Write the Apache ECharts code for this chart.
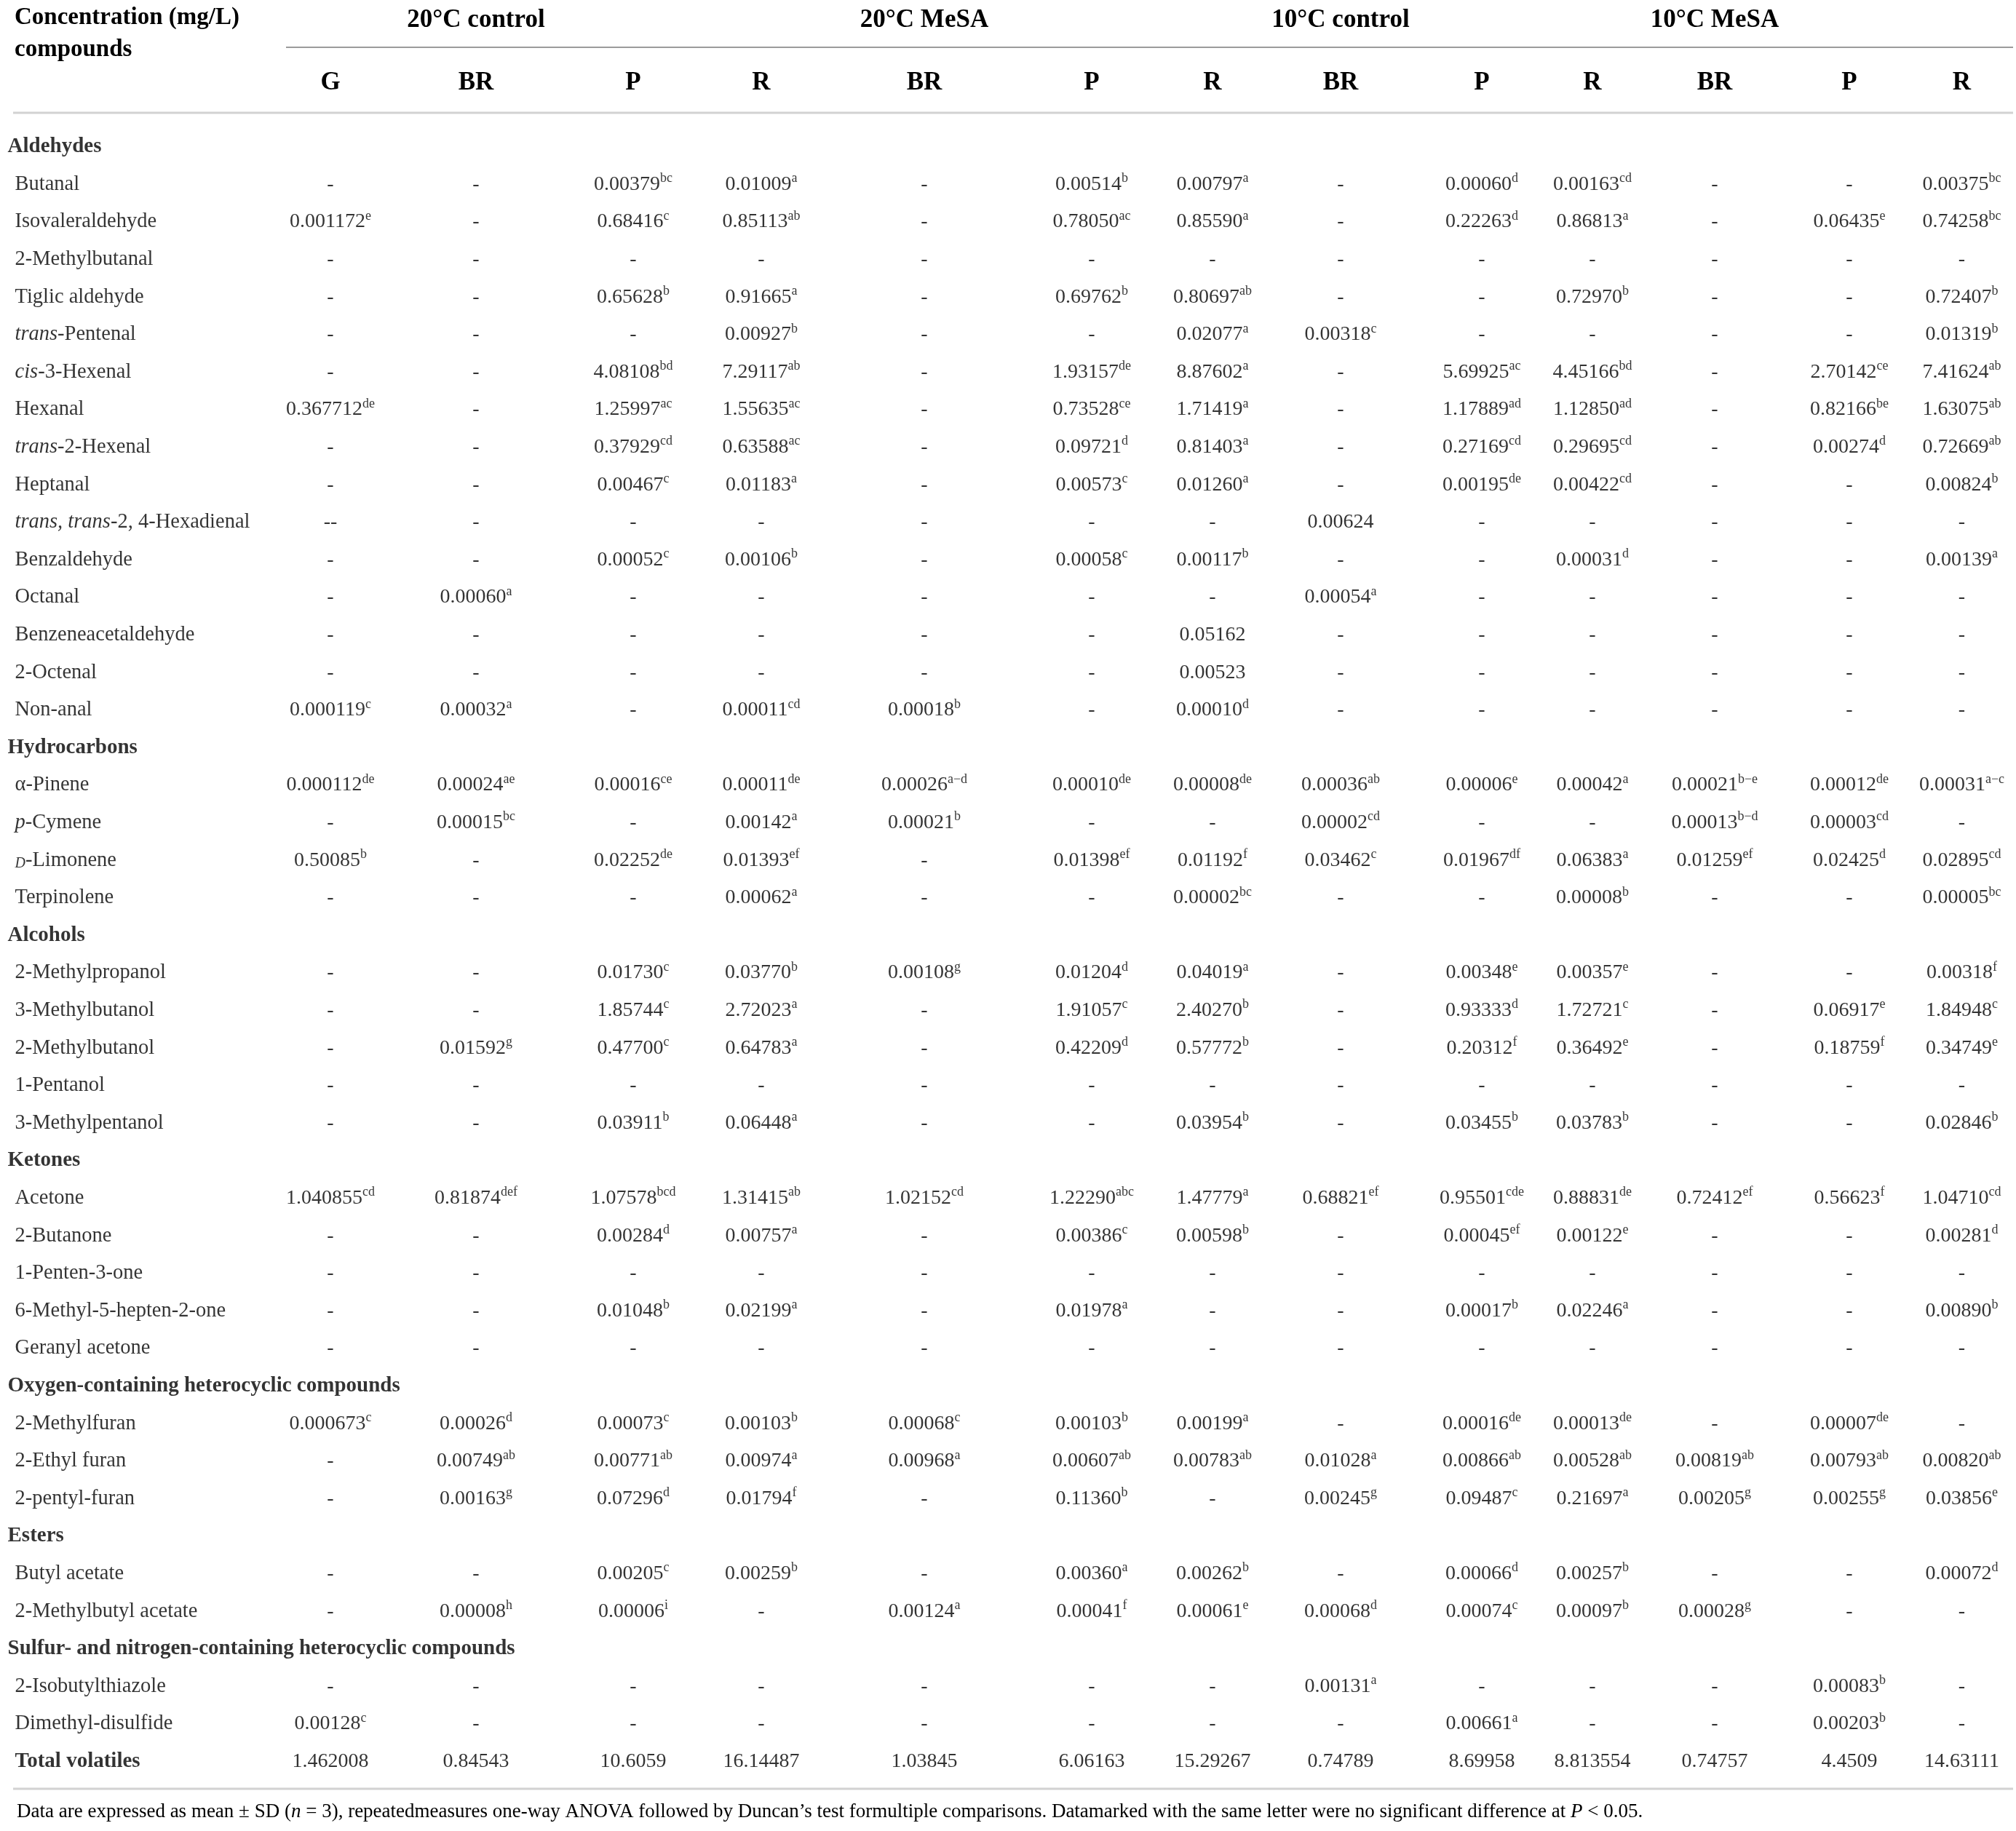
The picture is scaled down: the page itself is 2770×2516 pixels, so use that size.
<!DOCTYPE html>
<html>
<head>
<meta charset="utf-8">
<script src="https://cdn.jsdelivr.net/npm/echarts@6/dist/echarts.min.js"></script>
<style>
    html, body { margin: 0; padding: 0; background: #ffffff; }
    #main { width: 2770px; height: 2516px; }
</style>
</head>
<body>
<div id="main"></div>
<script>
var groups = ['20°C control', '20°C MeSA', '10°C control', '10°C MeSA'];
var subCols = ['G', 'BR', 'P', 'R', 'BR', 'P', 'R', 'BR', 'P', 'R', 'BR', 'P', 'R'];
var colGroup = [0, 0, 0, 0, 1, 1, 1, 2, 2, 2, 3, 3, 3];

// cell text: value^letters ; *x* = italic, %x% = small italic
var aldehydes = [
    ['Butanal', '-', '-', '0.00379^bc', '0.01009^a', '-', '0.00514^b', '0.00797^a', '-', '0.00060^d', '0.00163^cd', '-', '-', '0.00375^bc'],
    ['Isovaleraldehyde', '0.001172^e', '-', '0.68416^c', '0.85113^ab', '-', '0.78050^ac', '0.85590^a', '-', '0.22263^d', '0.86813^a', '-', '0.06435^e', '0.74258^bc'],
    ['2-Methylbutanal', '-', '-', '-', '-', '-', '-', '-', '-', '-', '-', '-', '-', '-'],
    ['Tiglic aldehyde', '-', '-', '0.65628^b', '0.91665^a', '-', '0.69762^b', '0.80697^ab', '-', '-', '0.72970^b', '-', '-', '0.72407^b'],
    ['*trans*-Pentenal', '-', '-', '-', '0.00927^b', '-', '-', '0.02077^a', '0.00318^c', '-', '-', '-', '-', '0.01319^b'],
    ['*cis*-3-Hexenal', '-', '-', '4.08108^bd', '7.29117^ab', '-', '1.93157^de', '8.87602^a', '-', '5.69925^ac', '4.45166^bd', '-', '2.70142^ce', '7.41624^ab'],
    ['Hexanal', '0.367712^de', '-', '1.25997^ac', '1.55635^ac', '-', '0.73528^ce', '1.71419^a', '-', '1.17889^ad', '1.12850^ad', '-', '0.82166^be', '1.63075^ab'],
    ['*trans*-2-Hexenal', '-', '-', '0.37929^cd', '0.63588^ac', '-', '0.09721^d', '0.81403^a', '-', '0.27169^cd', '0.29695^cd', '-', '0.00274^d', '0.72669^ab'],
    ['Heptanal', '-', '-', '0.00467^c', '0.01183^a', '-', '0.00573^c', '0.01260^a', '-', '0.00195^de', '0.00422^cd', '-', '-', '0.00824^b'],
    ['*trans, trans*-2, 4-Hexadienal', '--', '-', '-', '-', '-', '-', '-', '0.00624', '-', '-', '-', '-', '-'],
    ['Benzaldehyde', '-', '-', '0.00052^c', '0.00106^b', '-', '0.00058^c', '0.00117^b', '-', '-', '0.00031^d', '-', '-', '0.00139^a'],
    ['Octanal', '-', '0.00060^a', '-', '-', '-', '-', '-', '0.00054^a', '-', '-', '-', '-', '-'],
    ['Benzeneacetaldehyde', '-', '-', '-', '-', '-', '-', '0.05162', '-', '-', '-', '-', '-', '-'],
    ['2-Octenal', '-', '-', '-', '-', '-', '-', '0.00523', '-', '-', '-', '-', '-', '-'],
    ['Non-anal', '0.000119^c', '0.00032^a', '-', '0.00011^cd', '0.00018^b', '-', '0.00010^d', '-', '-', '-', '-', '-', '-']
];
var hydrocarbons = [
    ['\u03b1-Pinene', '0.000112^de', '0.00024^ae', '0.00016^ce', '0.00011^de', '0.00026^a\u2212d', '0.00010^de', '0.00008^de', '0.00036^ab', '0.00006^e', '0.00042^a', '0.00021^b\u2212e', '0.00012^de', '0.00031^a\u2212c'],
    ['*p*-Cymene', '-', '0.00015^bc', '-', '0.00142^a', '0.00021^b', '-', '-', '0.00002^cd', '-', '-', '0.00013^b\u2212d', '0.00003^cd', '-'],
    ['%D%-Limonene', '0.50085^b', '-', '0.02252^de', '0.01393^ef', '-', '0.01398^ef', '0.01192^f', '0.03462^c', '0.01967^df', '0.06383^a', '0.01259^ef', '0.02425^d', '0.02895^cd'],
    ['Terpinolene', '-', '-', '-', '0.00062^a', '-', '-', '0.00002^bc', '-', '-', '0.00008^b', '-', '-', '0.00005^bc']
];
var alcohols = [
    ['2-Methylpropanol', '-', '-', '0.01730^c', '0.03770^b', '0.00108^g', '0.01204^d', '0.04019^a', '-', '0.00348^e', '0.00357^e', '-', '-', '0.00318^f'],
    ['3-Methylbutanol', '-', '-', '1.85744^c', '2.72023^a', '-', '1.91057^c', '2.40270^b', '-', '0.93333^d', '1.72721^c', '-', '0.06917^e', '1.84948^c'],
    ['2-Methylbutanol', '-', '0.01592^g', '0.47700^c', '0.64783^a', '-', '0.42209^d', '0.57772^b', '-', '0.20312^f', '0.36492^e', '-', '0.18759^f', '0.34749^e'],
    ['1-Pentanol', '-', '-', '-', '-', '-', '-', '-', '-', '-', '-', '-', '-', '-'],
    ['3-Methylpentanol', '-', '-', '0.03911^b', '0.06448^a', '-', '-', '0.03954^b', '-', '0.03455^b', '0.03783^b', '-', '-', '0.02846^b']
];
var ketones = [
    ['Acetone', '1.040855^cd', '0.81874^def', '1.07578^bcd', '1.31415^ab', '1.02152^cd', '1.22290^abc', '1.47779^a', '0.68821^ef', '0.95501^cde', '0.88831^de', '0.72412^ef', '0.56623^f', '1.04710^cd'],
    ['2-Butanone', '-', '-', '0.00284^d', '0.00757^a', '-', '0.00386^c', '0.00598^b', '-', '0.00045^ef', '0.00122^e', '-', '-', '0.00281^d'],
    ['1-Penten-3-one', '-', '-', '-', '-', '-', '-', '-', '-', '-', '-', '-', '-', '-'],
    ['6-Methyl-5-hepten-2-one', '-', '-', '0.01048^b', '0.02199^a', '-', '0.01978^a', '-', '-', '0.00017^b', '0.02246^a', '-', '-', '0.00890^b'],
    ['Geranyl acetone', '-', '-', '-', '-', '-', '-', '-', '-', '-', '-', '-', '-', '-']
];
var oxygenHet = [
    ['2-Methylfuran', '0.000673^c', '0.00026^d', '0.00073^c', '0.00103^b', '0.00068^c', '0.00103^b', '0.00199^a', '-', '0.00016^de', '0.00013^de', '-', '0.00007^de', '-'],
    ['2-Ethyl furan', '-', '0.00749^ab', '0.00771^ab', '0.00974^a', '0.00968^a', '0.00607^ab', '0.00783^ab', '0.01028^a', '0.00866^ab', '0.00528^ab', '0.00819^ab', '0.00793^ab', '0.00820^ab'],
    ['2-pentyl-furan', '-', '0.00163^g', '0.07296^d', '0.01794^f', '-', '0.11360^b', '-', '0.00245^g', '0.09487^c', '0.21697^a', '0.00205^g', '0.00255^g', '0.03856^e']
];
var esters = [
    ['Butyl acetate', '-', '-', '0.00205^c', '0.00259^b', '-', '0.00360^a', '0.00262^b', '-', '0.00066^d', '0.00257^b', '-', '-', '0.00072^d'],
    ['2-Methylbutyl acetate', '-', '0.00008^h', '0.00006^i', '-', '0.00124^a', '0.00041^f', '0.00061^e', '0.00068^d', '0.00074^c', '0.00097^b', '0.00028^g', '-', '-']
];
var sulfurHet = [
    ['2-Isobutylthiazole', '-', '-', '-', '-', '-', '-', '-', '0.00131^a', '-', '-', '-', '0.00083^b', '-'],
    ['Dimethyl-disulfide', '0.00128^c', '-', '-', '-', '-', '-', '-', '-', '0.00661^a', '-', '-', '0.00203^b', '-']
];
var totalVolatiles = ['Total volatiles', '1.462008', '0.84543', '10.6059', '16.14487', '1.03845', '6.06163', '15.29267', '0.74789', '8.69958', '8.813554', '0.74757', '4.4509', '14.63111'];

var sections = [
    ['Aldehydes', aldehydes],
    ['Hydrocarbons', hydrocarbons],
    ['Alcohols', alcohols],
    ['Ketones', ketones],
    ['Oxygen-containing heterocyclic compounds', oxygenHet],
    ['Esters', esters],
    ['Sulfur- and nitrogen-containing heterocyclic compounds', sulfurHet]
];
var headerTitle = 'Concentration (mg/L)\ncompounds';
var footnote = 'Data are expressed as mean \u00b1 SD ({i|n} = 3), repeatedmeasures one-way ANOVA followed by Duncan\u2019s test formultiple comparisons. Datamarked with the same letter were no significant difference at {i|P} < 0.05.';

// layout (px)
var colCenter = [454, 654, 870, 1046, 1270, 1500, 1666, 1842, 2036, 2188, 2356, 2541, 2701];
var colWidth = 160;
var tableTop = 176;
var rowH = 51.6;
var font = "'Liberation Serif', 'Times New Roman', serif";
var ink = '#000000';

// flatten sections into rows
var rows = [];
sections.forEach(function (sec) {
    rows.push({ kind: 'head', name: sec[0] });
    sec[1].forEach(function (r) {
        rows.push({ kind: 'item', name: r[0], cells: r.slice(1) });
    });
});
rows.push({ kind: 'total', name: totalVolatiles[0], cells: totalVolatiles.slice(1) });
var rowCats = rows.map(function (r, i) { return String(i); });

function nameRich(r) {
    if (r.kind !== 'item') return '{h|' + r.name + '}';
    var s = r.name.replace(/\*([^*]+)\*/g, '}{i|$1}{n|').replace(/%([^%]+)%/g, '}{sc|$1}{n|');
    return ('{n|' + s + '}').replace(/\{n\|\}/g, '');
}
function cellRich(txt) {
    var p = txt.split('^');
    var s = '{v|' + p[0] + '}';
    if (p[1]) s += '{s|' + p[1] + '}';
    return s;
}

var grids = [], xAxes = [], yAxes = [], series = [];
var gridH = rows.length * rowH;

// compound name column
grids.push({ left: 0, width: 40, top: tableTop, height: gridH });
xAxes.push({
    gridIndex: 0, type: 'category', data: [headerTitle], position: 'top',
    axisLine: { show: false }, axisTick: { show: false }, splitLine: { show: false },
    axisLabel: {
        align: 'left', verticalAlign: 'bottom', margin: 86,
        fontFamily: font, fontSize: 33, fontWeight: 'bold', lineHeight: 44, color: ink
    }
});
yAxes.push({ gridIndex: 0, type: 'category', data: rowCats, inverse: true, show: false });

var nameRichStyles = {
    n: { fontFamily: font, fontSize: 28.5, color: ink },
    i: { fontFamily: font, fontSize: 28.5, fontStyle: 'italic', color: ink },
    sc: { fontFamily: font, fontSize: 20, fontStyle: 'italic', color: ink, verticalAlign: 'bottom', lineHeight: 30 },
    h: { fontFamily: font, fontSize: 29, fontWeight: 'bold', color: ink }
};
series.push({
    type: 'scatter', xAxisIndex: 0, yAxisIndex: 0, symbolSize: 1, silent: true, clip: false,
    itemStyle: { color: 'rgba(0,0,0,0)' },
    label: { show: true, position: 'right', distance: 0, color: ink, rich: nameRichStyles },
    data: rows.map(function (r, k) {
        return r.kind === 'head' ? null : { value: [0, k], label: { formatter: nameRich(r) } };
    }).filter(function (d) { return d; })
});
series.push({
    type: 'scatter', xAxisIndex: 0, yAxisIndex: 0, symbolSize: 1, silent: true, clip: false,
    itemStyle: { color: 'rgba(0,0,0,0)' },
    label: { show: true, position: 'right', distance: 0, offset: [-10, 0], color: ink, rich: nameRichStyles },
    data: rows.map(function (r, k) {
        return r.kind === 'head' ? { value: [0, k], label: { formatter: nameRich(r) } } : null;
    }).filter(function (d) { return d; })
});

// value columns
subCols.forEach(function (sub, i) {
    var gi = i + 1;
    grids.push({ left: colCenter[i] - colWidth / 2, width: colWidth, top: tableTop, height: gridH });
    xAxes.push({
        gridIndex: gi, type: 'category', data: [sub], position: 'top',
        axisLine: { show: false }, axisTick: { show: false }, splitLine: { show: false },
        axisLabel: {
            verticalAlign: 'bottom', margin: 43,
            fontFamily: font, fontSize: 35, fontWeight: 'bold', lineHeight: 39, color: ink
        },
        name: sub === 'BR' ? groups[colGroup[i]] : '',
        nameLocation: 'middle', nameGap: 131,
        nameTextStyle: { fontFamily: font, fontSize: 35, fontWeight: 'bold', color: ink }
    });
    yAxes.push({ gridIndex: gi, type: 'category', data: rowCats, inverse: true, show: false });
    var data = [];
    rows.forEach(function (r, k) {
        if (r.kind !== 'head') data.push([0, k, r.cells[i]]);
    });
    series.push({
        type: 'scatter', xAxisIndex: gi, yAxisIndex: gi, symbolSize: 1, silent: true, clip: false,
        itemStyle: { color: 'rgba(0,0,0,0)' },
        label: {
            show: true, position: 'inside', color: ink,
            formatter: function (p) { return cellRich(p.value[2]); },
            rich: {
                v: { fontFamily: font, fontSize: 28, lineHeight: 34, color: ink },
                s: { fontFamily: font, fontSize: 18, lineHeight: 18, verticalAlign: 'top', color: ink }
            }
        },
        data: data
    });
});

var chart = echarts.init(document.getElementById('main'));
chart.setOption({
    animation: false,
    backgroundColor: '#ffffff',
    title: {
        text: footnote, left: 18, top: 2471,
        textStyle: {
            fontFamily: font, fontSize: 27, fontWeight: 'normal', color: ink,
            rich: { i: { fontFamily: font, fontSize: 27, fontStyle: 'italic', color: ink } }
        }
    },
    grid: grids,
    xAxis: xAxes,
    yAxis: yAxes,
    series: series,
    graphic: [
        { type: 'line', shape: { x1: 393, y1: 65, x2: 2766, y2: 65 }, style: { stroke: '#9b9b9b', lineWidth: 2 } },
        { type: 'line', shape: { x1: 18, y1: 155, x2: 2766, y2: 155 }, style: { stroke: '#d2d2d2', lineWidth: 3 } },
        { type: 'line', shape: { x1: 18, y1: 2458, x2: 2766, y2: 2458 }, style: { stroke: '#d2d2d2', lineWidth: 3 } }
    ]
});
</script>
</body>
</html>
